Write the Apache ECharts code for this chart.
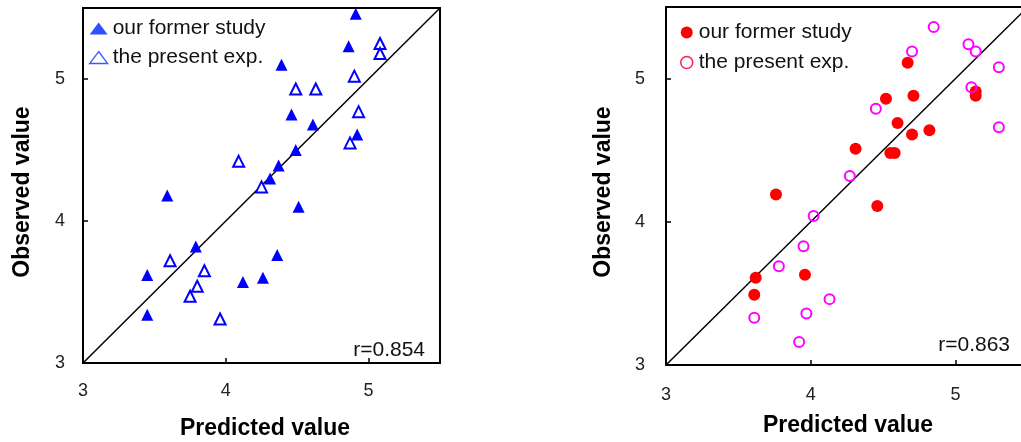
<!DOCTYPE html>
<html>
<head>
<meta charset="utf-8">
<script src="https://cdn.jsdelivr.net/npm/echarts@6/dist/echarts.min.js"></script>
<style>
html,body{margin:0;padding:0;background:#fff;}
#c{width:1021px;height:442px;}
</style>
</head>
<body>
<div id="c"></div>
<script>
// ---- data ----
var seriesNames = ['our former study', 'the present exp.'];
var tickValues = [3, 4, 5];
var axisMin = 3, axisMax = 5.5;
var rightXMax = 5.453;   // right panel is cut off by the picture edge
var rLabels = ['r=0.854', 'r=0.863'];
var xTitle = 'Predicted value';
var yTitle = 'Observed value';

var leftFormer = [[4.91,5.46],[4.86,5.23],[4.39,5.10],[4.46,4.75],[4.61,4.68],[4.92,4.61],[4.49,4.50],[4.37,4.39],[4.31,4.30],[3.59,4.18],[4.51,4.10],[3.79,3.82],[4.36,3.76],[3.45,3.62],[4.26,3.60],[4.12,3.57],[3.45,3.34]];
var leftPresent = [[5.08,5.25],[5.08,5.18],[4.90,5.02],[4.49,4.93],[4.63,4.93],[4.93,4.77],[4.87,4.55],[4.09,4.42],[4.25,4.24],[3.61,3.72],[3.85,3.65],[3.80,3.54],[3.75,3.47],[3.96,3.31]];
var rightFormer = [[4.67,5.11],[4.52,4.86],[4.71,4.88],[4.60,4.69],[4.70,4.61],[4.82,4.64],[5.14,4.91],[5.14,4.88],[4.31,4.51],[4.55,4.48],[4.58,4.48],[3.76,4.19],[4.46,4.11],[3.62,3.61],[3.96,3.63],[3.61,3.49]];
var rightPresent = [[4.85,5.36],[4.70,5.19],[5.09,5.24],[5.14,5.19],[5.30,5.08],[5.11,4.94],[4.45,4.79],[5.30,4.66],[4.27,4.32],[4.02,4.04],[3.95,3.83],[3.78,3.69],[4.13,3.46],[3.97,3.36],[3.61,3.33],[3.92,3.16]];
var diagonal = [[3,3],[5.5,5.5]];

var FONT = '"Liberation Sans", Arial, sans-serif';
var chart = echarts.init(document.getElementById('c'), null, {renderer: 'canvas'});

function mkAxis(gi, margin, max, showLine) {
  return {
    type: 'value', gridIndex: gi, min: axisMin, max: max, interval: 1,
    axisLine: {show: !!showLine, onZero: false, lineStyle: {color: '#000', width: 2}},
    axisTick: {show: true, inside: true, length: 5, lineStyle: {color: '#000', width: 1.5}},
    axisLabel: {show: true, margin: margin, fontSize: 18, color: '#222', fontFamily: FONT, showMaxLabel: false,
      formatter: function (v) { return tickValues.indexOf(v) >= 0 ? String(v) : ''; }},
    splitLine: {show: false}
  };
}
var topRight = {
  type: 'value', gridIndex: 1, position: 'top', min: axisMin, max: rightXMax,
  axisLine: {show: true, onZero: false, lineStyle: {color: '#000', width: 2}},
  axisTick: {show: false}, axisLabel: {show: false}, splitLine: {show: false}
};

var option = {
  animation: false,
  backgroundColor: '#fff',
  grid: [
    {left: 83, top: 8, width: 357, height: 355, show: true, borderColor: '#000', borderWidth: 2, backgroundColor: 'transparent'},
    {left: 666, top: 7, width: 355, height: 358, show: false}
  ],
  xAxis: [mkAxis(0, 19, axisMax, false), mkAxis(1, 21, rightXMax, true), topRight],
  yAxis: [mkAxis(0, 18, axisMax, false), mkAxis(1, 21, axisMax, true)],
  legend: [
    {
      orient: 'vertical', left: 84, top: 13, itemWidth: 18, itemHeight: 12, itemGap: 8,
      selectedMode: false,
      textStyle: {fontSize: 21, lineHeight: 21, color: '#111', fontFamily: FONT},
      data: [
        {name: seriesNames[0], icon: 'triangle', itemStyle: {color: '#3050ff', borderWidth: 0}},
        {name: seriesNames[1], icon: 'triangle', itemStyle: {color: '#fff', borderColor: '#3a5cff', borderWidth: 1.3}}
      ]
    },
    {
      orient: 'vertical', left: 675, top: 17, itemWidth: 14, itemHeight: 12, itemGap: 9,
      selectedMode: false,
      textStyle: {fontSize: 21, lineHeight: 21, color: '#111', fontFamily: FONT},
      data: [
        {name: seriesNames[0], icon: 'circle', itemStyle: {color: '#ff0000', borderWidth: 0}},
        {name: seriesNames[1], icon: 'circle', itemStyle: {color: '#fff', borderColor: '#ff2050', borderWidth: 1.5}}
      ]
    }
  ],
  series: [
    {type: 'line', xAxisIndex: 0, yAxisIndex: 0, data: diagonal, symbol: 'none', silent: true,
      lineStyle: {color: '#000', width: 1.5}, z: 1},
    {type: 'line', xAxisIndex: 1, yAxisIndex: 1, data: diagonal, symbol: 'none', silent: true, clip: true,
      lineStyle: {color: '#000', width: 1.5}, z: 1},
    {name: seriesNames[0], type: 'scatter', xAxisIndex: 0, yAxisIndex: 0, data: leftFormer,
      symbol: 'triangle', symbolSize: 12, itemStyle: {color: '#0000ff', opacity: 1}, z: 3},
    {name: seriesNames[1], type: 'scatter', xAxisIndex: 0, yAxisIndex: 0, data: leftPresent,
      symbol: 'triangle', symbolSize: 11, itemStyle: {color: '#fff', borderColor: '#0000ff', borderWidth: 2, opacity: 1}, z: 3},
    {name: seriesNames[0], type: 'scatter', xAxisIndex: 1, yAxisIndex: 1, data: rightFormer,
      symbol: 'circle', symbolSize: 12, itemStyle: {color: '#ff0000', opacity: 1}, z: 3},
    {name: seriesNames[1], type: 'scatter', xAxisIndex: 1, yAxisIndex: 1, data: rightPresent,
      symbol: 'circle', symbolSize: 10, itemStyle: {color: 'rgba(255,255,255,0)', borderColor: '#ff00ff', borderWidth: 2, opacity: 1}, z: 3}
  ],
  graphic: [
    {type: 'text', x: 23, y: 192, rotation: Math.PI / 2,
      style: {text: yTitle, font: 'bold 23px ' + FONT, fill: '#000', textAlign: 'center', textVerticalAlign: 'middle'}},
    {type: 'text', x: 604, y: 192, rotation: Math.PI / 2,
      style: {text: yTitle, font: 'bold 23px ' + FONT, fill: '#000', textAlign: 'center', textVerticalAlign: 'middle'}},
    {type: 'text', x: 265, y: 429,
      style: {text: xTitle, font: 'bold 23px ' + FONT, fill: '#000', textAlign: 'center', textVerticalAlign: 'middle'}},
    {type: 'text', x: 848, y: 426,
      style: {text: xTitle, font: 'bold 23px ' + FONT, fill: '#000', textAlign: 'center', textVerticalAlign: 'middle'}},
    {type: 'text', x: 425, y: 350,
      style: {text: rLabels[0], font: '21px ' + FONT, fill: '#111', textAlign: 'right', textVerticalAlign: 'middle'}},
    {type: 'text', x: 1010, y: 345,
      style: {text: rLabels[1], font: '21px ' + FONT, fill: '#111', textAlign: 'right', textVerticalAlign: 'middle'}}
  ]
};
chart.setOption(option);
</script>
</body>
</html>
